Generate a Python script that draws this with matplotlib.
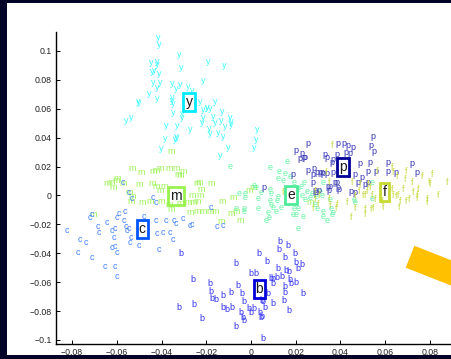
# %%
import numpy as np
import matplotlib
matplotlib.use('Agg')
import matplotlib.pyplot as plt
from matplotlib.patches import Rectangle
from matplotlib.transforms import IdentityTransform
from matplotlib.ticker import FixedLocator, FuncFormatter

plt.rcParams['font.family'] = ['Liberation Sans', 'DejaVu Sans']

# %%
# 2-D embedding of the letter samples, one pair of lists per letter class
yX = [-0.0416, -0.0411, -0.0322, -0.0447, -0.0420, -0.0420, -0.0192, -0.0121, -0.0313, -0.0443,
      -0.0434, -0.0411, -0.0438, -0.0407, -0.0215, -0.0353, -0.0317, -0.0282, -0.0335, -0.0264,
      -0.0420, -0.0456, -0.0505, -0.0420, -0.0353, -0.0349, -0.0228, -0.0161, -0.0197, -0.0215,
      -0.0183, -0.0130, -0.0349, -0.0308, -0.0559, -0.0536, -0.0215, -0.0170, -0.0134, -0.0094,
      -0.0161, -0.0116, -0.0089, -0.0219, -0.0380, -0.0331, -0.0273, -0.0188, -0.0148, -0.0335,
      -0.0384, -0.0125, -0.0501, -0.0353, -0.0308, -0.0197, -0.0089, -0.0183, 0.0027, -0.0340,
      -0.0331, 0.0022, -0.0402, -0.0103, 0.0013, -0.0139]
yY = [0.1090, 0.1045, 0.0972, 0.0917, 0.0924, 0.0903, 0.0924, 0.0896, 0.0882, 0.0855,
      0.0868, 0.0841, 0.0785, 0.0785, 0.0792, 0.0772, 0.0765, 0.0751, 0.0737, 0.0723,
      0.0744, 0.0702, 0.0647, 0.0668, 0.0675, 0.0633, 0.0647, 0.0647, 0.0612, 0.0592,
      0.0599, 0.0578, 0.0571, 0.0536, 0.0522, 0.0536, 0.0536, 0.0543, 0.0522, 0.0536,
      0.0502, 0.0474, 0.0488, 0.0502, 0.0481, 0.0481, 0.0453, 0.0460, 0.0439, 0.0405,
      0.0391, 0.0405, 0.0640, 0.0654, 0.0564, 0.0606, 0.0509, 0.0432, 0.0453, 0.0384,
      0.0398, 0.0384, 0.0322, 0.0329, 0.0329, 0.0273]

mX = [-0.0358, -0.0532, -0.0492, -0.0438, -0.0407, -0.0367, -0.0335, -0.0304, -0.0317, -0.0425,
      -0.0326, -0.0599, -0.0644, -0.0626, -0.0603, -0.0572, -0.0617, -0.0501, -0.0443, -0.0425,
      -0.0389, -0.0407, -0.0241, -0.0545, -0.0532, -0.0536, -0.0487, -0.0451, -0.0402, -0.0367,
      -0.0317, -0.0282, -0.0241, -0.0241, -0.0273, -0.0706, -0.0358, -0.0232, -0.0179, -0.0224,
      -0.0228, -0.0259, -0.0264, -0.0215, -0.0183, -0.0161, -0.0130, -0.0080, -0.0009, 0.0009,
      -0.0067, -0.0089, -0.0134, -0.0049, 0.0264]
mY = [0.0301, 0.0183, 0.0156, 0.0163, 0.0183, 0.0183, 0.0183, 0.0163, 0.0135, 0.0176,
      0.0142, 0.0114, 0.0080, 0.0087, 0.0100, 0.0080, 0.0052, 0.0073, 0.0080, 0.0059,
      0.0059, 0.0031, 0.0080, 0.0017, -0.0010, -0.0045, -0.0052, -0.0045, -0.0045, -0.0066,
      -0.0059, -0.0052, -0.0045, -0.0114, -0.0121, -0.0135, -0.0100, 0.0087, 0.0080, 0.0038,
      -0.0003, -0.0052, 0.0003, -0.0114, -0.0114, -0.0114, -0.0045, -0.0017, 0.0031, 0.0052,
      -0.0114, -0.0128, -0.0183, -0.0176, -0.0052]

cX = [-0.0572, -0.0545, -0.0532, -0.0563, -0.0590, -0.0599, -0.0568, -0.0720, -0.0711, -0.0644,
      -0.0684, -0.0679, -0.0621, -0.0608, -0.0612, -0.0559, -0.0554, -0.0545, -0.0536, -0.0541,
      -0.0501, -0.0822, -0.0764, -0.0738, -0.0773, -0.0711, -0.0621, -0.0608, -0.0599, -0.0653,
      -0.0608, -0.0599, -0.0438, -0.0425, -0.0478, -0.0425, -0.0380, -0.0420, -0.0393, -0.0362,
      -0.0344, -0.0349, -0.0411, -0.0304, -0.0273, -0.0335, -0.0179, -0.0152, -0.0125, -0.0264]
cY = [0.0087, 0.0017, -0.0024, -0.0114, -0.0128, -0.0156, -0.0170, -0.0156, -0.0135, -0.0190,
      -0.0218, -0.0253, -0.0246, -0.0232, -0.0294, -0.0218, -0.0246, -0.0232, -0.0294, -0.0329,
      -0.0349, -0.0246, -0.0308, -0.0329, -0.0398, -0.0426, -0.0363, -0.0356, -0.0398, -0.0495,
      -0.0495, -0.0564, -0.0017, -0.0052, -0.0149, -0.0170, -0.0170, -0.0260, -0.0253, -0.0253,
      -0.0170, -0.0308, -0.0377, -0.0163, -0.0211, -0.0197, -0.0080, -0.0218, -0.0211, -0.0204]

bX = [-0.0313, -0.0067, -0.0259, -0.0183, -0.0179, -0.0174, -0.0156, -0.0125, -0.0089, -0.0058,
      -0.0040, -0.0031, -0.0322, -0.0255, -0.0219, -0.0125, -0.0107, -0.0085, -0.0045, -0.0036,
      -0.0031, -0.0009, 0.0000, 0.0013, 0.0040, 0.0049, 0.0063, -0.0067, 0.0000, 0.0022,
      0.0036, 0.0072, 0.0089, 0.0098, 0.0098, 0.0076, 0.0049, 0.0098, 0.0130, 0.0165,
      0.0125, 0.0152, 0.0197, 0.0121, 0.0156, 0.0170, 0.0201, 0.0210, 0.0228, 0.0139,
      0.0116, 0.0174, 0.0179, 0.0201, 0.0152, 0.0152, 0.0232, 0.0148, 0.0170, 0.0054,
      0.0045, 0.0054]
bY = [-0.0405, -0.0474, -0.0585, -0.0606, -0.0668, -0.0716, -0.0723, -0.0689, -0.0675, -0.0626,
      -0.0682, -0.0737, -0.0778, -0.0758, -0.0855, -0.0778, -0.0792, -0.0778, -0.0813, -0.0848,
      -0.0862, -0.0785, -0.0813, -0.0785, -0.0813, -0.0841, -0.0772, -0.0910, -0.0543, -0.0543,
      -0.0405, -0.0460, -0.0578, -0.0578, -0.0612, -0.0682, -0.0730, -0.0751, -0.0322, -0.0343,
      -0.0377, -0.0426, -0.0405, -0.0509, -0.0522, -0.0529, -0.0467, -0.0509, -0.0481, -0.0564,
      -0.0571, -0.0585, -0.0606, -0.0599, -0.0633, -0.0675, -0.0682, -0.0730, -0.0799, -0.0993,
      -0.0848, -0.0737]

eX = [-0.0094, 0.0085, 0.0161, 0.0125, 0.0152, 0.0174, 0.0121, 0.0143, 0.0237, 0.0210,
      0.0250, 0.0228, 0.0273, 0.0013, 0.0022, 0.0085, 0.0045, -0.0054, -0.0027, 0.0089,
      0.0121, -0.0027, 0.0031, 0.0085, 0.0116, 0.0089, 0.0098, 0.0112, 0.0134, 0.0192,
      0.0210, 0.0188, 0.0201, -0.0067, -0.0031, 0.0067, 0.0080, 0.0210, 0.0241, 0.0264,
      0.0291, 0.0286, 0.0192, 0.0224, 0.0317, 0.0308, 0.0353, 0.0358, 0.0295, 0.0322,
      0.0362, 0.0465, 0.0322, 0.0367, 0.0322, 0.0340, 0.0460, 0.0541, 0.0541, 0.0076,
      0.0031, 0.0232, -0.0031]
eY = [0.0197, 0.0190, 0.0232, 0.0163, 0.0149, 0.0128, 0.0114, 0.0100, 0.0087, 0.0038,
      0.0024, 0.0003, 0.0010, 0.0066, 0.0052, 0.0038, 0.0017, 0.0010, 0.0010, 0.0010,
      -0.0010, -0.0017, -0.0024, -0.0038, -0.0038, -0.0066, -0.0080, -0.0114, -0.0080, -0.0087,
      -0.0087, -0.0135, -0.0135, -0.0093, -0.0093, -0.0170, -0.0156, -0.0232, -0.0031, -0.0017,
      -0.0010, -0.0066, 0.0093, 0.0059, 0.0003, 0.0024, -0.0031, -0.0087, -0.0087, -0.0114,
      -0.0135, -0.0052, 0.0087, -0.0121, -0.0149, -0.0170, -0.0031, 0.0087, -0.0024, -0.0121,
      -0.0093, -0.0149, -0.0114]

pX = [0.0255, 0.0201, 0.0228, 0.0219, 0.0237, 0.0188, 0.0255, 0.0282, 0.0295, 0.0308,
      0.0277, 0.0322, 0.0340, 0.0331, 0.0340, 0.0389, 0.0416, 0.0434, 0.0456, 0.0425,
      0.0443, 0.0384, 0.0367, 0.0362, 0.0367, 0.0384, 0.0353, 0.0349, 0.0393, 0.0447,
      0.0465, 0.0478, 0.0496, 0.0465, 0.0487, 0.0532, 0.0523, 0.0559, 0.0545, 0.0536,
      0.0550, 0.0612, 0.0612, 0.0286, 0.0304, 0.0058, 0.0523, 0.0510, 0.0720, 0.0648,
      0.0742, 0.0317, 0.0375, 0.0344, 0.0389, 0.0277, 0.0291, 0.0241]
pY = [0.0356, 0.0308, 0.0287, 0.0253, 0.0260, 0.0142, 0.0170, 0.0183, 0.0156, 0.0156,
      0.0142, 0.0149, 0.0149, 0.0280, 0.0266, 0.0356, 0.0356, 0.0343, 0.0329, 0.0294,
      0.0287, 0.0280, 0.0246, 0.0225, 0.0156, 0.0087, 0.0059, 0.0031, 0.0038, 0.0024,
      0.0017, 0.0087, 0.0121, 0.0142, 0.0218, 0.0225, 0.0163, 0.0163, 0.0405, 0.0349,
      0.0301, 0.0225, 0.0163, 0.0031, 0.0031, 0.0052, 0.0093, 0.0073, 0.0218, 0.0156,
      0.0156, 0.0156, 0.0087, 0.0059, 0.0052, 0.0093, 0.0017, 0.0266]

fX = [0.0362, 0.0335, 0.0563, 0.0693, 0.0809, 0.0876, 0.0688, 0.0720, 0.0796, 0.0800,
      0.0764, 0.0630, 0.0635, 0.0648, 0.0657, 0.0679, 0.0724, 0.0742, 0.0747, 0.0706,
      0.0693, 0.0742, 0.0787, 0.0836, 0.0523, 0.0532, 0.0519, 0.0501, 0.0483, 0.0465,
      0.0541, 0.0554, 0.0586, 0.0590, 0.0545, 0.0510, 0.0666, 0.0662, 0.0787, 0.0510,
      0.0384, 0.0380, 0.0465, 0.0447, 0.0510, 0.0536, 0.0451, 0.0487, 0.0630, 0.0635,
      0.0653, 0.0286, 0.0304, 0.0286, 0.0299, 0.0349, 0.0353, 0.0429, 0.0277, 0.0349,
      0.0143]
fY = [0.0349, 0.0156, 0.0163, 0.0163, 0.0142, 0.0093, 0.0107, 0.0087, 0.0093, 0.0073,
      0.0128, 0.0038, -0.0003, -0.0010, 0.0003, 0.0038, 0.0017, 0.0003, 0.0038, -0.0031,
      -0.0045, -0.0024, -0.0031, -0.0003, 0.0073, 0.0052, 0.0024, 0.0003, 0.0024, -0.0010,
      0.0003, -0.0031, -0.0045, -0.0080, -0.0087, -0.0100, -0.0045, -0.0080, -0.0052, 0.0003,
      -0.0066, -0.0087, -0.0087, -0.0156, -0.0135, -0.0100, 0.0087, 0.0073, 0.0190, 0.0156,
      0.0128, 0.0024, 0.0003, -0.0031, -0.0066, -0.0031, -0.0073, -0.0052, -0.0087, 0.0087,
      0.0017]

# class label and the position of its box
letters = ['y', 'm', 'c', 'b', 'e', 'p', 'f']
centreX = [-0.0277, -0.0335, -0.0487, 0.0038, 0.0179, 0.0411, 0.0597]
centreY = [0.0647, -0.0003, -0.0232, -0.0647, 0.0003, 0.0197, 0.0024]

xticks = [-0.08, -0.06, -0.04, -0.02, 0, 0.02, 0.04, 0.06, 0.08]
yticks = [-0.1, -0.08, -0.06, -0.04, -0.02, 0, 0.02, 0.04, 0.06, 0.08, 0.1]

# %%
ptColor = {'y': (0.25, 1.0, 1.0), 'm': (0.62, 0.95, 0.35), 'c': (0.25, 0.5, 1.0),
           'b': (0.2, 0.2, 0.95), 'e': (0.4, 0.95, 0.65), 'p': (0.2, 0.2, 0.7),
           'f': (0.78, 0.85, 0.25)}
boxColor = {'y': (0.0, 0.92, 1.0), 'm': (0.6, 0.95, 0.3), 'c': (0.0, 0.33, 1.0),
            'b': (0.0, 0.0, 0.85), 'e': (0.3, 0.92, 0.6), 'p': (0.0, 0.0, 0.6),
            'f': (0.78, 0.85, 0.2)}
pts = {'y': (yX, yY), 'm': (mX, mY), 'c': (cX, cY), 'b': (bX, bY),
       'e': (eX, eY), 'p': (pX, pY), 'f': (fX, fY)}

fig = plt.figure(figsize=(4.52, 3.59), dpi=100, facecolor='#030328')
fig.add_artist(Rectangle((7/452, 4/359), 445/452, 352/359, transform=fig.transFigure,
                         facecolor='white', edgecolor='none', zorder=0))

ax = fig.add_axes([56/452, 15/359, 396/452, 312/359])
ax.set_facecolor('none')

for k in letters:
    xs, ys = pts[k]
    for a, b in zip(xs, ys):
        ax.text(a, b, k, color=ptColor[k], fontsize=6.5, ha='center', va='center')

for k, a, b in zip(letters, centreX, centreY):
    ax.text(a, b, k, color='#1a1a1a', fontsize=10, ha='center', va='center', zorder=5,
            bbox=dict(boxstyle='square,pad=0.15', fc='none', ec=boxColor[k], lw=2.0))

ax.set_xlim(-0.0872, 0.0899)
ax.set_ylim(-0.1028, 0.1131)

fmt = FuncFormatter(lambda v, pos: ('%g' % round(v, 4)).replace('-', '\u2212'))
ax.xaxis.set_major_locator(FixedLocator(xticks))
ax.yaxis.set_major_locator(FixedLocator(yticks))
ax.xaxis.set_major_formatter(fmt)
ax.yaxis.set_major_formatter(fmt)
ax.tick_params(direction='in', length=3, width=0.7, labelsize=6.3, pad=3, colors='black',
               labelcolor='#222222')
ax.spines['top'].set_visible(False)
ax.spines['right'].set_visible(False)
ax.spines['left'].set_linewidth(1.0)
ax.spines['bottom'].set_linewidth(1.0)

# orange marker bar in the lower right corner (pixel coordinates)
fig.add_artist(Rectangle((405.7, 91.3), 100, 23.6, angle=-21.5, transform=IdentityTransform(),
                         facecolor='#ffc000', edgecolor='none', zorder=6))

plt.savefig('out.png', dpi=100, facecolor=fig.get_facecolor())
